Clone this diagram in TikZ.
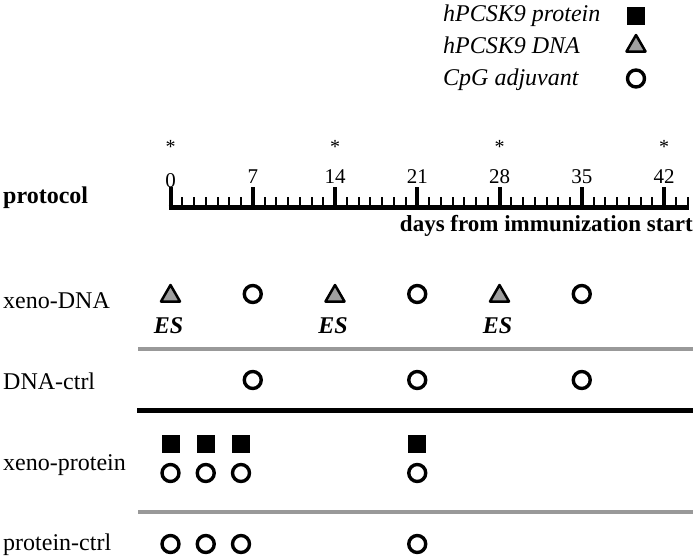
\documentclass[tikz,border=0pt]{standalone}
\usepackage{fontspec}
\setmainfont{Liberation Serif}
\usepackage{tikz}
\usetikzlibrary{shapes.geometric}

\newcommand{\dayx}[1]{170.5+11.75*#1}

\begin{document}
\begin{tikzpicture}[x=1pt,y=-1pt,
    txt/.style={font=\fontsize{24}{28}\selectfont,inner sep=0pt},
    lbl/.style={txt,anchor=base west},
    prot/.style={rectangle,fill=black,minimum size=18pt,inner sep=0pt},
    dna/.style={regular polygon,regular polygon sides=3,draw=black,fill=gray!75,line width=2.5pt,line join=round,minimum size=22pt,inner sep=0pt},
    cpg/.style={circle,draw=black,line width=3.4pt,minimum size=17pt,inner sep=0pt},
    sepline/.style={line width=4.5pt,draw=black!40}]
    \useasboundingbox (0,0) rectangle (695,557);

    % 图例
    \node[lbl,font=\itshape\fontsize{24}{28}\selectfont] (lgprot) at (443,21) {hPCSK9 protein};
    \node[lbl,font=\itshape\fontsize{24}{28}\selectfont] (lgdna) at (443,53) {hPCSK9 DNA};
    \node[lbl,font=\itshape\fontsize{24}{28}\selectfont] (lgcpg) at (443,85) {CpG adjuvant};
    \node[prot] (symprot) at (636,16) {}; \node[dna] (symdna) at (636,46) {}; \node[cpg] (symcpg) at (636,78.5) {};

    % 时间轴
    \draw[line width=5pt] ({\dayx{0}-2},207) -- ({\dayx{44}+1},207);
    \foreach \d in {1,...,44} \draw[line width=2pt] ({\dayx{\d}},207) -- ({\dayx{\d}},197);
    \foreach \d in {0,7,...,42} \draw[line width=4pt] ({\dayx{\d}},207) -- ({\dayx{\d}},187);
    \node[txt,font=\fontsize{21}{24}\selectfont,anchor=base] (num0) at ({\dayx{0}},187) {0};
    \foreach \d in {7,14,...,42} \node[txt,font=\fontsize{21}{24}\selectfont,anchor=base] (num\d) at ({\dayx{\d}},183) {\d};
    \foreach \d in {0,14,28,42} \node[txt,font=\fontsize{20}{24}\selectfont,anchor=base] (star\d) at ({\dayx{\d}},153) {*};
    \node[lbl,font=\bfseries\fontsize{24}{28}\selectfont] (protocol) at (3,203) {protocol};
    \node[txt,font=\bfseries\fontsize{23}{28}\selectfont,anchor=base east] (daystxt) at (693,231) {days from immunization start};

    % 行标签
    \node[lbl] (xenodna) at (3,308) {xeno-DNA};
    \node[lbl] (dnactrl) at (3,389) {DNA-ctrl};
    \node[lbl] (xenoprot) at (3,470) {xeno-protein};
    \node[lbl] (protctrl) at (3,550) {protein-ctrl};

    % 分隔线
    \draw[sepline] (138,349) -- (693,349);
    \draw[line width=5pt] (137,410) -- (693,410);
    \draw[sepline] (138,512) -- (693,512);

    % xeno-DNA
    \foreach \d in {0,14,28} {
        \node[dna] (tri\d) at ({\dayx{\d}},296) {};
        \node[txt,font=\bfseries\itshape\fontsize{24}{28}\selectfont,anchor=base] (es\d) at ({\dayx{\d}-2},333) {ES};
    }
    \foreach \d in {7,21,35} \node[cpg] (adj\d) at ({\dayx{\d}},294) {};

    % DNA-ctrl
    \foreach \d in {7,21,35} \node[cpg] (ctrl\d) at ({\dayx{\d}},380) {};

    % xeno-protein
    \foreach \d in {0,3,6,21} {
        \node[prot] (sq\d) at ({\dayx{\d}},444) {};
        \node[cpg] (padj\d) at ({\dayx{\d}},473) {};
    }

    % protein-ctrl
    \foreach \d in {0,3,6,21} \node[cpg] (pctrl\d) at ({\dayx{\d}},544) {};
\end{tikzpicture}
\end{document}
